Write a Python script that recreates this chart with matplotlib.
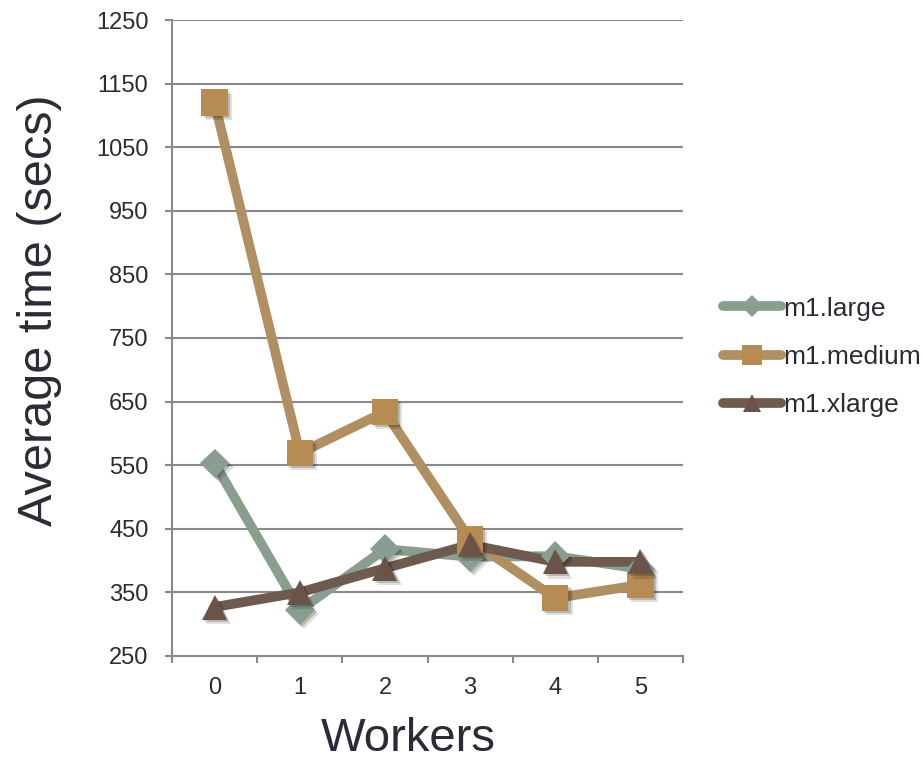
import matplotlib
matplotlib.use("Agg")
import matplotlib.pyplot as plt
import matplotlib.patheffects as pe
import numpy as np

plt.rcParams["font.family"] = ["Liberation Sans", "DejaVu Sans"]
plt.rcParams["text.color"] = "#2b2b35"
plt.rcParams["xtick.labelcolor"] = "#2b2b35"
plt.rcParams["ytick.labelcolor"] = "#2b2b35"

workers = [0, 1, 2, 3, 4, 5]
m1_large = [553, 322, 418, 406, 407, 387]
m1_medium = [1120, 569, 634, 433, 341, 362]
m1_xlarge = [327, 350, 388, 425, 398, 398]

series = [
    ("m1.large", m1_large, "#8a9e90", "#8a9e90", "D", 15),
    ("m1.medium", m1_medium, "#b08f62", "#b68c52", "s", 19),
    ("m1.xlarge", m1_xlarge, "#6f5a50", "#6a5449", "^", 18),
]

fig = plt.figure(figsize=(9.22, 7.61), dpi=100)
ax = fig.add_axes([0.1866, 0.138, 0.5542, 0.8357])

# soft drop shadow under the markers
shadow = [
    pe.SimplePatchShadow(offset=(3, -3), shadow_rgbFace="black", alpha=0.12),
    pe.SimplePatchShadow(offset=(1.5, -1.5), shadow_rgbFace="black", alpha=0.18),
    pe.Normal(),
]

x = np.arange(len(workers))
for name, vals, lc, mc, mk, ms in series:
    ax.plot(x, vals, color=lc, linewidth=7, solid_capstyle="round", zorder=3)
    ax.plot(x, vals, linestyle="none", marker=mk, markersize=ms, color=mc,
            markeredgewidth=0, zorder=4, path_effects=shadow)
    # legend proxy
    ax.plot([], [], color=lc, linewidth=7, solid_capstyle="round",
            marker=mk, markersize=ms * 0.75, markerfacecolor=mc, markeredgewidth=0, label=name)

ax.set_xlim(-0.5, 5.5)
ax.set_ylim(250, 1250)
ax.set_yticks(np.arange(250, 1251, 100))
ax.set_xticks(x)
ax.set_xticklabels([str(w) for w in workers])
ax.set_xticks(np.arange(-0.5, 5.6, 1), minor=True)
ax.tick_params(axis="x", which="major", length=0, pad=15, labelsize=17)
ax.tick_params(axis="x", which="minor", length=5, width=1.5, color="#888888")
ax.tick_params(axis="y", length=5, width=1.5, color="#888888", labelsize=17, pad=12)

ax.grid(axis="y", color="#8a8a8a", linewidth=1.5)
ax.set_axisbelow(True)
for side in ("top", "right"):
    ax.spines[side].set_visible(False)
for side in ("left", "bottom"):
    ax.spines[side].set_color("#8a8a8a")
    ax.spines[side].set_linewidth(1.5)

# axis titles placed by hand
fig.text(408 / 922, 1 - 751 / 761, "Workers", fontsize=34,
         ha="center", va="baseline")
fig.text(52 / 922, 1 - 310 / 761, "Average time (secs)", fontsize=35,
         rotation=90, rotation_mode="anchor", ha="center", va="baseline")

ax.legend(loc="center left", bbox_to_anchor=(723 / 922, 1 - 357 / 761),
          bbox_transform=fig.transFigure, borderaxespad=0, borderpad=0,
          frameon=False, fontsize=19, handlelength=2.2, handletextpad=0.1,
          labelspacing=0.92)

fig.savefig("out.png", dpi=100)
